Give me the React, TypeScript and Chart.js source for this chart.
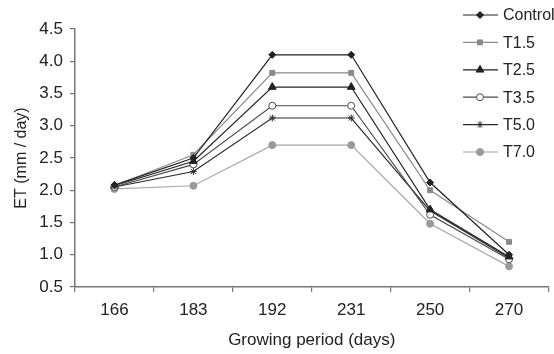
import React, { useEffect, useRef } from "react";
import { Chart, registerables } from "chart.js";
import { drawPoint } from "chart.js/helpers";

Chart.register(...registerables);

const categories = ["166", "183", "192", "231", "250", "270"];
const seriesNames = ["Control", "T1.5", "T2.5", "T3.5", "T5.0", "T7.0"];
const control = [2.08, 2.5, 4.1, 4.1, 2.12, 1.0];
const t15 = [2.07, 2.55, 3.82, 3.82, 2.0, 1.2];
const t25 = [2.07, 2.45, 3.6, 3.6, 1.7, 0.97];
const t35 = [2.05, 2.4, 3.31, 3.31, 1.62, 0.93];
const t50 = [2.05, 2.29, 3.12, 3.12, 1.68, 0.95];
const t70 = [2.02, 2.07, 2.7, 2.7, 1.48, 0.82];
const yTicks = [0.5, 1.0, 1.5, 2.0, 2.5, 3.0, 3.5, 4.0, 4.5];

const FONT = "'Liberation Sans', Arial, sans-serif";
const TEXT = "#222222";

const styles = [
  { line: "#222222", point: "rectRot", fill: "#222222", border: "#222222", r: 3.5 },
  { line: "#8a8a8a", point: "rect", fill: "#8a8a8a", border: "#8a8a8a", r: 3.5 },
  { line: "#222222", point: "triangle", fill: "#222222", border: "#222222", r: 4.5 },
  { line: "#4a4a4a", point: "circle", fill: "#ffffff", border: "#4a4a4a", r: 3.5 },
  { line: "#2a2a2a", point: "star", fill: "#2a2a2a", border: "#2a2a2a", r: 3.5 },
  { line: "#a8a8a8", point: "circle", fill: "#9a9a9a", border: "#9a9a9a", r: 3.5 },
];

const legendPlugin = {
  id: "customLegend",
  afterDraw(chart: any) {
    const ctx = chart.ctx;
    ctx.save();
    chart.data.datasets.forEach((ds: any, i: number) => {
      const y = 15 + i * 27.4;
      ctx.strokeStyle = ds.borderColor;
      ctx.lineWidth = 1.2;
      ctx.beginPath();
      ctx.moveTo(463, y);
      ctx.lineTo(498, y);
      ctx.stroke();
      ctx.fillStyle = ds.pointBackgroundColor;
      ctx.strokeStyle = ds.pointBorderColor;
      ctx.lineWidth = 1;
      drawPoint(ctx, { pointStyle: ds.pointStyle, radius: ds.pointRadius, rotation: 0, borderWidth: 1 }, 480, y);
      ctx.fillStyle = TEXT;
      ctx.font = `16px ${FONT}`;
      ctx.textAlign = "left";
      ctx.textBaseline = "middle";
      ctx.fillText(ds.label, 503, y + 1);
    });
    ctx.restore();
  },
};

export default function App() {
  const ref = useRef<HTMLCanvasElement>(null);
  useEffect(() => {
    const series = [control, t15, t25, t35, t50, t70];
    const chart = new Chart(ref.current!, {
      type: "line",
      data: {
        labels: categories,
        datasets: series.map((d, i) => ({
          label: seriesNames[i],
          data: d,
          borderColor: styles[i].line,
          borderWidth: 1.2,
          pointStyle: styles[i].point as any,
          pointRadius: styles[i].r,
          pointBackgroundColor: styles[i].fill,
          pointBorderColor: styles[i].border,
          pointBorderWidth: 1,
          tension: 0,
        })),
      },
      options: {
        animation: false,
        responsive: false,
        maintainAspectRatio: false,
        layout: { padding: { top: 29, left: 0, right: 0, bottom: 0 } },
        plugins: { legend: { display: false }, tooltip: { enabled: false } },
        scales: {
          x: {
            type: "category",
            offset: true,
            grid: { offset: true, drawOnChartArea: false, drawTicks: true, tickLength: 5, color: "#777", lineWidth: 1.2 },
            border: { color: "#777", width: 1.5 },
            ticks: { color: TEXT, font: { family: FONT, size: 17 }, padding: 8, maxRotation: 0 },
            title: { display: true, text: "Growing period (days)", color: TEXT, font: { family: FONT, size: 17 }, padding: { top: 0, bottom: 3 } },
            afterFit(scale: any) { scale.height = 67; },
          },
          y: {
            min: 0.5,
            max: 4.5,
            afterBuildTicks(scale: any) { scale.ticks = yTicks.map((v) => ({ value: v })); },
            grid: { drawOnChartArea: false, drawTicks: true, tickLength: 5, color: "#777", lineWidth: 1.2 },
            border: { color: "#777", width: 1.5 },
            ticks: { color: TEXT, font: { family: FONT, size: 17 }, padding: 7, callback: (v: any) => Number(v).toFixed(1) },
            title: { display: true, text: "ET (mm / day)", color: TEXT, font: { family: FONT, size: 16 }, padding: { top: 12, bottom: 0 } },
            afterFit(scale: any) { scale.width = 75; },
          },
        },
      },
      plugins: [legendPlugin],
    });
    return () => chart.destroy();
  }, []);
  return (
    <div style={{ position: "absolute", left: 0, top: 0, width: 554, height: 354 }}>
      <canvas ref={ref} width={554} height={354} style={{ width: 554, height: 354 }} />
    </div>
  );
}
